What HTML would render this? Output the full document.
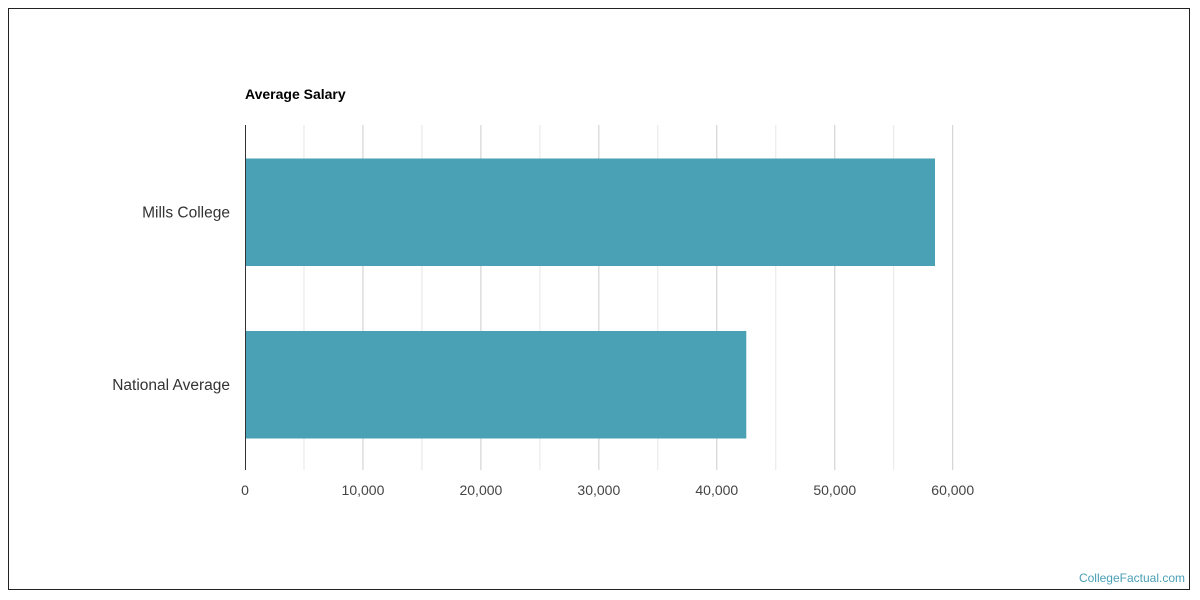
<!DOCTYPE html>
<html><head><meta charset="utf-8"><style>
body{margin:0;background:#fff;font-family:"Liberation Sans",sans-serif}
svg{display:block}
</style></head><body>
<svg width="1200" height="600">
<rect x="8.5" y="8.5" width="1181" height="581" fill="#fff" stroke="#222" stroke-width="1"/>
<text x="245" y="99" font-size="14" font-weight="bold" fill="#000">Average Salary</text>
<g id="grid"></g><g id="bars"></g><g id="labels"></g>
<line x1="245.5" y1="125" x2="245.5" y2="470" stroke="#333"/>
<text x="1185" y="582" font-size="12" fill="#4a9fb5" text-anchor="end">CollegeFactual.com</text>
</svg>
<script>
const categories=["Mills College","National Average"];
const values=[58500,42500];
const ticks=[0,10000,20000,30000,40000,50000,60000];
const tickLabels=["0","10,000","20,000","30,000","40,000","50,000","60,000"];
const NS="http://www.w3.org/2000/svg";
const x=v=>245+v*(707.7/60000);
const bandTop=125,band=172.5,barH=107.5;
function mk(t,a,p){const e=document.createElementNS(NS,t);for(const k in a)e.setAttribute(k,a[k]);p.appendChild(e);return e;}
const g=document.getElementById('grid'),b=document.getElementById('bars'),l=document.getElementById('labels');
for(let v=5000;v<=60000;v+=5000){
 const ln=mk('line',{x1:x(v),x2:x(v),y1:125,y2:470,stroke:v%10000?'#e6e6e6':'#cccccc'},g);
 
 
}
ticks.forEach((t,i)=>{
 const tx=mk('text',{x:x(t),y:495,'font-size':14,fill:'#444','text-anchor':'middle'},l);
 tx.textContent=tickLabels[i];
 
 
});
categories.forEach((c,i)=>{
 const y=bandTop+i*band+(band-barH)/2+1;
 const r=mk('rect',{x:245,y:y,width:x(values[i])-245,height:barH,fill:'#4aa0b4'},b);
 
 
 const t=mk('text',{x:230,y:y+barH/2+5,'font-size':15.5,fill:'#333','text-anchor':'end'},l);
 t.textContent=c;
 
 
});
</script>
</body></html>
